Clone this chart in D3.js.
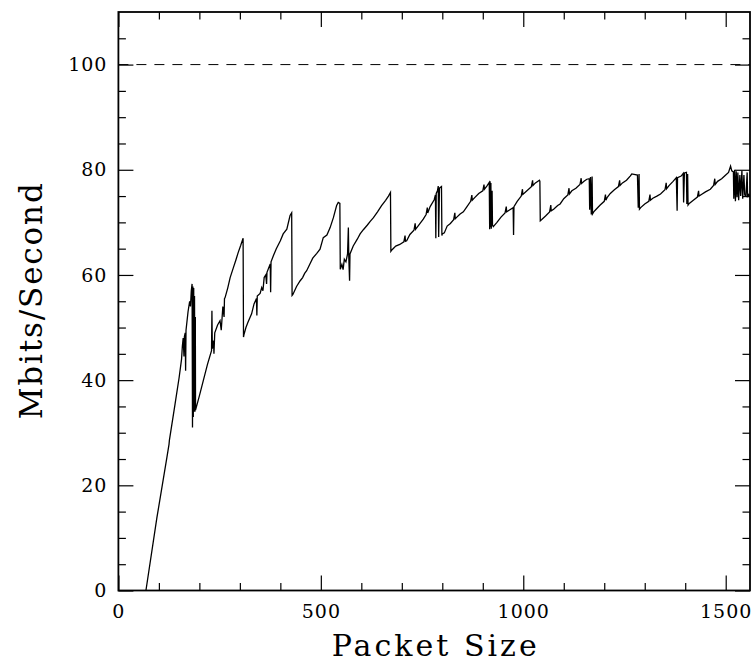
<!DOCTYPE html>
<html>
<head>
<meta charset="utf-8">
<script src="https://cdn.jsdelivr.net/npm/d3@7"></script>
<style>
  body { margin: 0; background: #fff; }
  svg { display: block; }
</style>
</head>
<body>
<svg id="chart" width="753" height="663"></svg>
<script>
// packet size vs throughput (one line per sawtooth)
var packetSize = [
  68, 95, 120, 125, 126, 140, 150, 156, 158, 160, 162, 163, 165, 166, 167, 172, 176, 178, 180, 182,
  183, 184, 185, 186, 187, 188, 189, 190, 190.5,
  200, 210, 220, 230, 231, 232, 235, 236, 238, 245, 251, 254, 258, 261, 262, 263.5, 270, 276, 284, 290, 296, 302, 308,
  309, 310, 315, 320, 329, 335, 341, 342, 343, 350, 354, 357, 360, 364, 366, 367, 375, 376, 377, 383, 390, 400, 407, 416, 424, 428,
  429, 431, 440, 449, 455, 460, 465, 473, 480, 490, 498, 506, 515, 523, 531, 539, 543, 547,
  548, 552, 555, 558, 562, 566, 568, 569, 571, 572, 580, 590, 597, 605, 615, 622, 630, 640, 650, 660, 667, 672,
  673, 676, 685, 695, 705, 708, 709, 712, 720, 730, 733, 734, 740, 753, 760, 763, 764, 770, 780, 783, 784, 785, 788, 790, 791, 793, 798, 799,
  800, 805, 812, 820, 828, 831, 832, 836, 844, 852, 861, 870, 873, 874, 880, 890, 900, 903, 904, 910, 916, 917, 918, 919, 920, 921, 923, 924,
  926, 935, 945, 955, 958, 959, 965, 975, 976, 977, 985, 995, 998, 999, 1009, 1020, 1023, 1024, 1030, 1040, 1041,
  1042, 1045, 1055, 1065, 1068, 1069, 1075, 1085, 1091, 1100, 1110, 1113, 1114, 1120, 1130, 1140, 1143, 1144, 1150, 1157, 1163, 1164, 1166, 1168, 1170, 1171,
  1174, 1180, 1190, 1200, 1203, 1204, 1207, 1215, 1225, 1235, 1238, 1239, 1245, 1255, 1264, 1268, 1282, 1284, 1286,
  1287, 1290, 1300, 1310, 1313, 1314, 1320, 1330, 1339, 1350, 1353, 1354, 1360, 1370, 1378, 1380, 1381, 1390, 1395, 1396, 1398, 1403, 1404, 1406,
  1407, 1410, 1420, 1430, 1433, 1434, 1440, 1450, 1462, 1470, 1473, 1474, 1480, 1490, 1500, 1507, 1512, 1515, 1519, 1520, 1522, 1524, 1526, 1528,
  1530, 1532, 1535, 1537, 1540, 1542, 1545, 1547, 1550, 1553, 1554, 1557, 1560
];
var mbits = [
  0, 13.8, 25.4, 27.8, 28.6, 35.5, 40.5, 44, 46.5, 48, 44.5, 48.3, 49, 41.8, 49.5, 53, 55, 54, 57, 58.3,
  31, 57.8, 33, 57.5, 34, 56, 34, 52, 34.3,
  37, 40, 43, 45.6, 53.2, 46, 47.5, 45, 49, 50.5, 51.3, 49.5, 54, 52, 55.5, 55.7, 57.5, 59.5, 61.4, 62.8, 64.3, 65.6, 67,
  48.2, 48.6, 50, 51, 52.6, 54.5, 55.5, 52.3, 56, 56.5, 57.6, 57, 59.5, 60, 58.3, 60.5, 62.1, 56.7, 62.5, 63.7, 65, 66.5, 67.8, 68.7, 71.3, 71.8,
  56.1, 56.3, 57.8, 58.9, 59.5, 60.3, 60.8, 62.1, 63.2, 64.1, 64.9, 67.1, 67.6, 69, 70.9, 73.2, 73.8, 73.6,
  61.1, 62, 61, 63, 62.5, 64, 69, 63.5, 58.9, 64, 65.5, 66.8, 67.8, 68.6, 69.5, 70.2, 70.9, 72, 73.2, 74.2, 75, 75.7,
  64.5, 64.8, 65.5, 65.8, 66.3, 67.5, 66.4, 66.5, 67.7, 68.5, 69.8, 68.7, 69.3, 70.6, 71.5, 72.8, 71.8, 73, 74.3, 75.2, 67, 75.5, 76, 76.9, 67.2, 76.5, 76.8, 67.5,
  67.8, 68, 69.3, 69.8, 70.5, 71.8, 70.7, 71, 71.6, 72, 73, 74, 75.2, 74.2, 74.7, 75.5, 76, 77.2, 76.3, 76.9, 77.6, 68.7, 77.8, 69, 77.5, 68.8, 76, 69.5,
  69.2, 70, 71, 71.8, 73, 72, 72.3, 72.8, 67.6, 73, 74, 75, 76.3, 75.3, 76, 76.8, 78, 77, 77.5, 78, 77.8,
  70.3, 70.5, 71.2, 72, 73.3, 72.2, 72.5, 73.2, 73.5, 74.5, 75.2, 76.5, 75.4, 76, 76.5, 77.2, 78.4, 77.4, 77.8, 78.2, 78.3, 72.4, 78.6, 71.5, 78.7, 71.6,
  72, 72.5, 73.3, 74, 75.3, 74.2, 74.7, 75.5, 76.2, 76.8, 78, 77, 77.5, 78, 78.8, 79.2, 79, 72.8, 79.2,
  72.5, 72.8, 73.5, 74, 75.3, 74.2, 74.6, 75, 75.4, 76.2, 77.5, 76.4, 77, 77.8, 78.5, 72.2, 78.5, 78.8, 79.3, 73.8, 79.4, 79.5, 73.5, 79.2,
  73.3, 73.6, 74.2, 74.8, 76, 75, 75.3, 75.8, 76.3, 77, 78.3, 77.2, 77.8, 78.3, 79, 79.5, 80.7, 79.8, 79.6, 74.5, 80, 74, 79.7, 74.8,
  79.5, 74.2, 79, 75, 79.8, 74.5, 79, 75.2, 75, 79.5, 74.8, 75.3, 75
];
var xMajorTicks = [0, 500, 1000, 1500];
var yMajorTicks = [0, 20, 40, 60, 80, 100];
var xMinorTicks = [100, 200, 300, 400, 600, 700, 800, 900, 1100, 1200, 1300, 1400];
var yMinorTicks = [5, 10, 15, 25, 30, 35, 45, 50, 55, 65, 70, 75, 85, 90, 95, 105];
var referenceLine = 100;

var margin = {top: 12, left: 118.4},
    width = 631.6,
    height = 578.5;

var svg = d3.select("#chart");
var g = svg.append("g").attr("transform", "translate(" + margin.left + "," + margin.top + ")");

var x = d3.scaleLinear().domain([0, 1560]).range([0, width]);
var y = d3.scaleLinear().domain([0, 110]).range([height, 0]);

var font = "'DejaVu Serif', serif";

g.append("clipPath").attr("id", "plot")
  .append("rect").attr("width", width).attr("height", height);

// dashed 100 Mbit line
g.append("line")
  .attr("x1", 0).attr("x2", width)
  .attr("y1", y(referenceLine)).attr("y2", y(referenceLine))
  .attr("stroke", "#000").attr("stroke-width", 1)
  .attr("stroke-dasharray", "10,8");

var pts = packetSize.map(function(d, i) { return [d, mbits[i]]; });
var line = d3.line()
  .x(function(d) { return x(d[0]); })
  .y(function(d) { return y(d[1]); });

g.append("path")
  .datum(pts)
  .attr("clip-path", "url(#plot)")
  .attr("fill", "none")
  .attr("stroke", "#000")
  .attr("stroke-width", 1.3)
  .attr("d", line);

// ticks point inward on all four sides
function styleAxis(sel) {
  sel.select(".domain").remove();
  sel.selectAll(".tick line").attr("stroke", "#000").attr("stroke-width", 1.2);
  sel.selectAll("text")
    .attr("fill", "#000")
    .style("font-family", font)
    .style("font-size", "19px")
    .style("letter-spacing", "1px");
}

g.append("g").attr("transform", "translate(0," + height + ")")
  .call(d3.axisBottom(x).tickValues(xMajorTicks).tickSize(-15).tickPadding(14).tickFormat(d3.format("d")))
  .call(styleAxis);
g.append("g").attr("transform", "translate(0," + height + ")")
  .call(d3.axisBottom(x).tickValues(xMinorTicks).tickSize(-7.5).tickFormat(""))
  .call(styleAxis);
g.append("g")
  .call(d3.axisTop(x).tickValues(xMajorTicks).tickSize(-15).tickFormat(""))
  .call(styleAxis);
g.append("g")
  .call(d3.axisTop(x).tickValues(xMinorTicks).tickSize(-7.5).tickFormat(""))
  .call(styleAxis);

g.append("g")
  .call(d3.axisLeft(y).tickValues(yMajorTicks).tickSize(-15).tickPadding(11).tickFormat(d3.format("d")))
  .call(styleAxis);
g.append("g")
  .call(d3.axisLeft(y).tickValues(yMinorTicks).tickSize(-7.5).tickFormat(""))
  .call(styleAxis);
g.append("g").attr("transform", "translate(" + width + ",0)")
  .call(d3.axisRight(y).tickValues(yMajorTicks).tickSize(-15).tickFormat(""))
  .call(styleAxis);
g.append("g").attr("transform", "translate(" + width + ",0)")
  .call(d3.axisRight(y).tickValues(yMinorTicks).tickSize(-7.5).tickFormat(""))
  .call(styleAxis);

// frame
g.append("rect")
  .attr("width", width).attr("height", height)
  .attr("fill", "none").attr("stroke", "#000").attr("stroke-width", 1.8);

// axis titles
svg.append("text")
  .attr("x", margin.left + width / 2)
  .attr("y", 656)
  .attr("text-anchor", "middle")
  .attr("textLength", 205)
  .style("font-family", font)
  .style("font-size", "30px")
  .text("Packet Size");

svg.append("text")
  .attr("transform", "translate(42," + (margin.top + height / 2) + ") rotate(-90)")
  .attr("text-anchor", "middle")
  .attr("textLength", 236)
  .style("font-family", font)
  .style("font-size", "31px")
  .text("Mbits/Second");
</script>
</body>
</html>
